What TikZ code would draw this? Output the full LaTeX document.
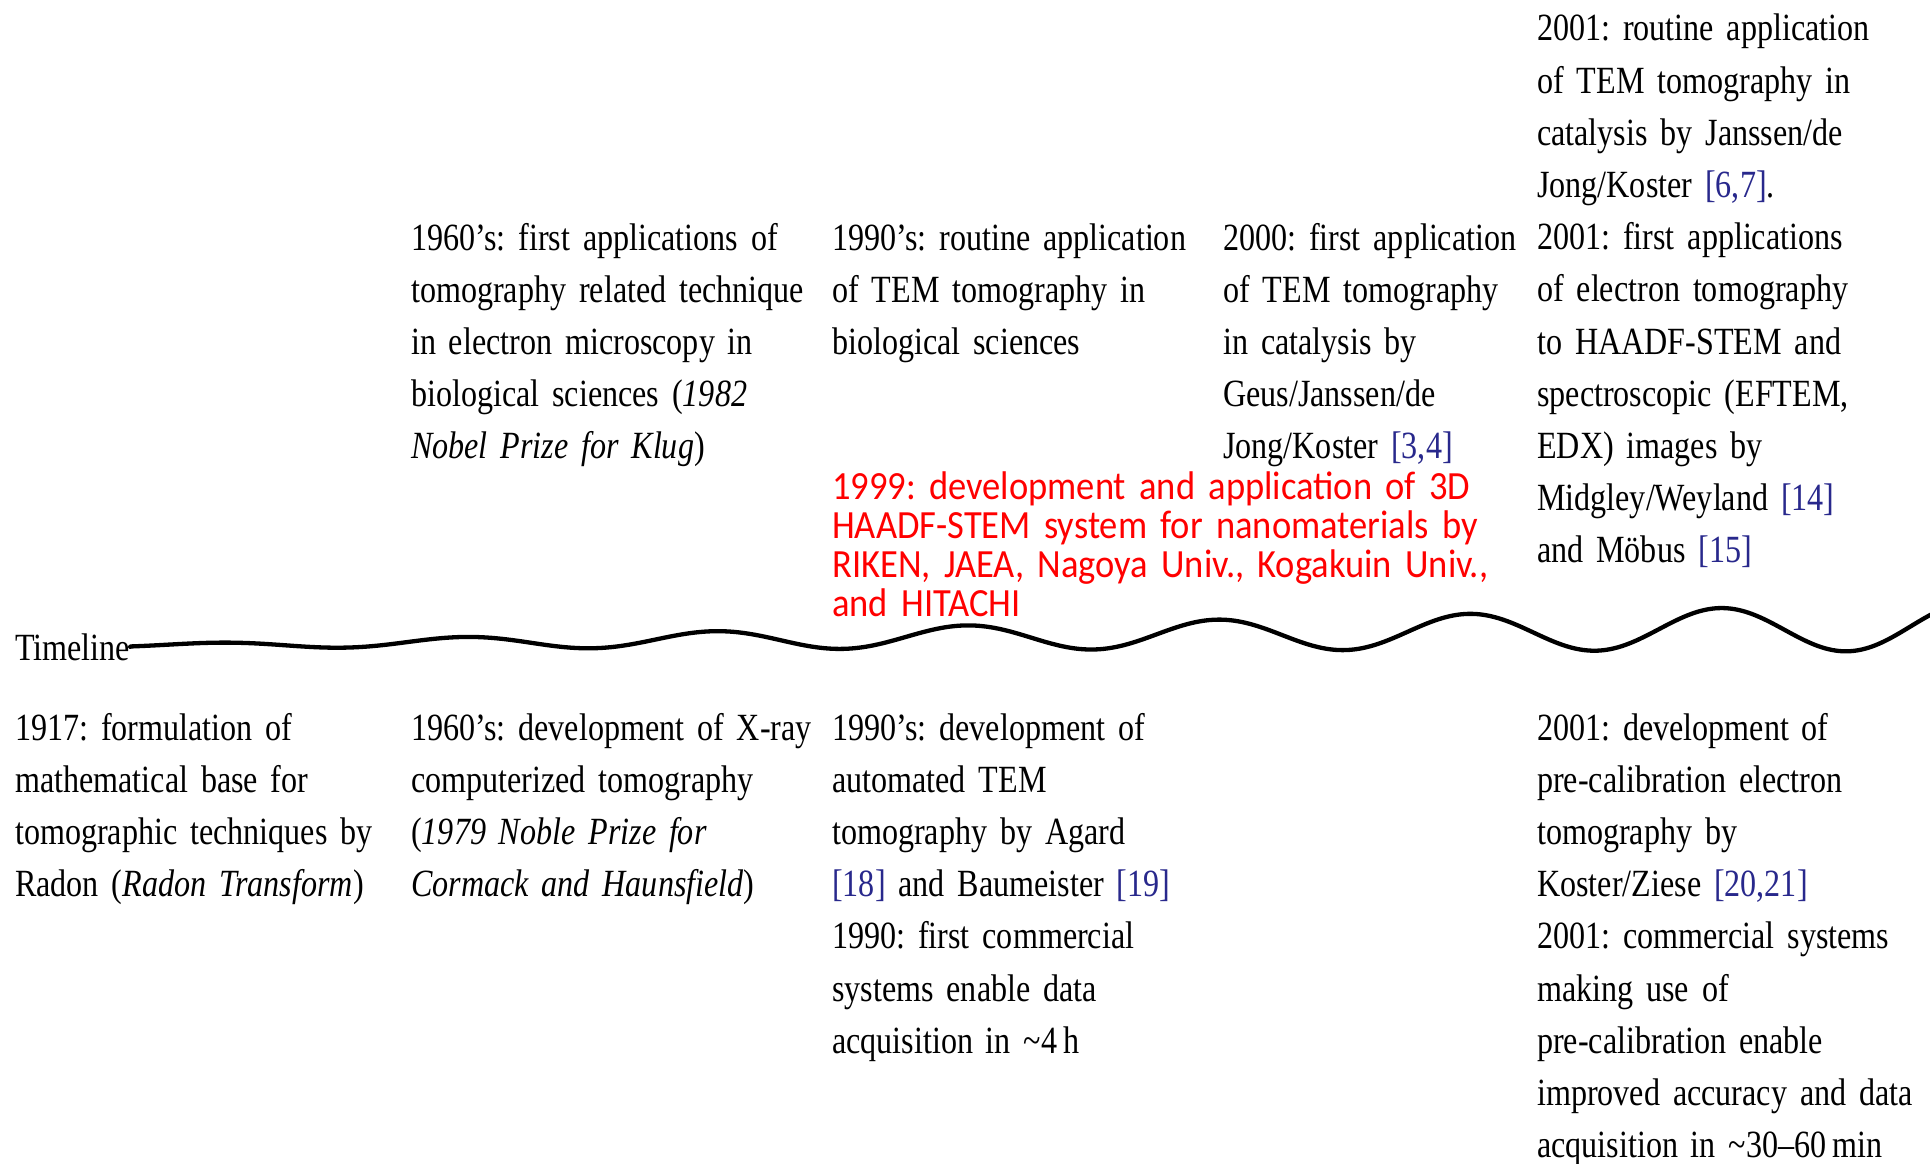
\documentclass[tikz,border=0pt]{standalone}
\usepackage{fontspec}
\setmainfont{Liberation Serif}[FakeStretch=0.834]
\newfontfamily\redfont{Carlito}[FakeStretch=0.913]
\definecolor{citeblue}{RGB}{40,40,140}
\definecolor{redtxt}{RGB}{255,0,0}
\newcommand\refc[1]{{\color{citeblue}#1}}
\frenchspacing
\begin{document}
\frenchspacing
\begin{tikzpicture}[x=1pt,y=-1pt,
  txt/.style={anchor=base west, inner sep=0pt, text width=480pt, align=left,
    font=\frenchspacing\fontsize{38.5}{52.2}\selectfont},
  redbox/.style={anchor=base west, inner sep=0pt, text width=720pt, align=left,
    text=redtxt, font=\frenchspacing\redfont\fontsize{40}{39.3}\selectfont},
  wave/.style={line width=4.3pt, line join=round, line cap=round}]
\fill[white] (0,0) rectangle (1930,1164);
\useasboundingbox (0,0) rectangle (1930,1164);

% top row
\node[txt] (t2) at (411,250) {1960’s: first applications of\\tomography related technique\\in electron microscopy in\\biological sciences (\textit{1982}\\\textit{Nobel Prize for Klug})};
\node[txt] (t3) at (832,250) {1990’s: routine application\\of TEM tomography in\\biological sciences};
\node[txt] (t4) at (1223,250) {2000: first application\\of TEM tomography\\in catalysis by\\Geus/Janssen/de\\Jong/Koster \refc{[3,4]}};
\node[txt] (t5) at (1537,41) {2001: routine application\\of TEM tomography in\\catalysis by Janssen/de\\Jong/Koster \refc{[6,7]}.\\2001: first applications\\of electron tomography\\to HAADF-STEM and\\spectroscopic (EFTEM,\\EDX) images by\\Midgley/Weyland \refc{[14]}\\and Möbus \refc{[15]}};

\node[redbox] (red) at (832,499) {1999: development and application of 3D\\HAADF-STEM system for nanomaterials by\\RIKEN, JAEA, Nagoya Univ., Kogakuin Univ.,\\and HITACHI};

% timeline
\node[txt, text width=] (tl) at (15,660) {Timeline};
\draw[wave] (tl.east) -- plot[domain=131:1935, samples=600]
  (\x, {642.5 - 0.0103*(\x-462) - (5.5+0.0127*(\x-462))*sin((\x-399)*1.430843)});

% bottom row
\node[txt] (b1) at (15,740) {1917: formulation of\\mathematical base for\\tomographic techniques by\\Radon (\textit{Radon Transform})};
\node[txt] (b2) at (411,740) {1960’s: development of X-ray\\computerized tomography\\(\textit{1979 Noble Prize for}\\\textit{Cormack and Haunsfield})};
\node[txt] (b3) at (832,740) {1990’s: development of\\automated TEM\\tomography by Agard\\\refc{[18]} and Baumeister \refc{[19]}\\1990: first commercial\\systems enable data\\acquisition in \textasciitilde4\,h};
\node[txt] (b5) at (1537,740) {2001: development of\\pre-calibration electron\\tomography by\\Koster/Ziese \refc{[20,21]}\\2001: commercial systems\\making use of\\pre-calibration enable\\improved accuracy and data\\acquisition in \textasciitilde30–60\,min};
\end{tikzpicture}
\end{document}
